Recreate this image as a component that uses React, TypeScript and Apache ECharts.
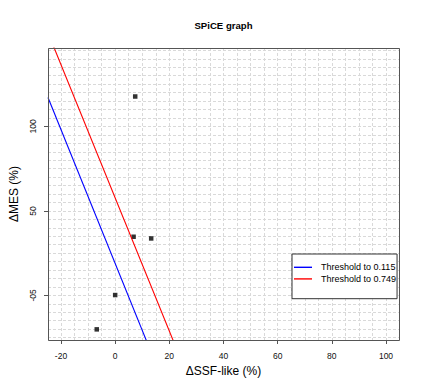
import React, { useEffect, useRef } from 'react';
import * as echarts from 'echarts';

// Scatter points
const ssfLike = [7.4, 6.8, 13.3, 0, -6.8];
const mes = [117.7, 34.7, 33.7, 0.2, -20.1];

// Threshold lines (y = intercept + slope * x)
const thresholdNames = ['Threshold to 0.115', 'Threshold to 0.749'];
const thresholdColors = ['#0000ff', '#ff0000'];
const thresholdIntercepts = [18.9, 57.7];
const thresholdSlopes = [-3.96, -3.94];

// Tick labels
const xTickValues = [-20, 0, 20, 40, 60, 80, 100];
const yTickValues = [0, 50, 100];
const yTickLabels = ['-05', '50', '100'];

const X_MIN = -24.8;
const X_MAX = 104.8;
const Y_MIN = -26.4;
const Y_MAX = 146.4;

const FONT = '"Liberation Sans", Arial, Helvetica, sans-serif';
const G = { left: 48, top: 48, width: 351, height: 292 };

export default function App() {
  const ref = useRef<HTMLDivElement>(null);

  useEffect(() => {
    if (!ref.current) return;
    const chart = echarts.init(ref.current, undefined, { renderer: 'svg' });

    const gridAxisCommon = {
      type: 'value' as const,
      axisLine: { show: false, onZero: false },
      axisTick: { show: false },
      axisLabel: { show: false },
      minInterval: 5,
      maxInterval: 5,
      splitLine: {
        show: true,
        lineStyle: { color: '#d9d9d9', width: 1, type: [3, 2] },
      },
    };

    const lineSeries = thresholdNames.map((name, i) => ({
      name,
      type: 'line',
      xAxisIndex: 0,
      yAxisIndex: 0,
      symbol: 'none',
      clip: true,
      lineStyle: { color: thresholdColors[i], width: 1.1 },
      itemStyle: { color: thresholdColors[i] },
      data: [X_MIN, X_MAX].map((x) => [x, thresholdIntercepts[i] + thresholdSlopes[i] * x]),
    }));

    chart.setOption({
      animation: false,
      backgroundColor: '#ffffff',
      textStyle: { fontFamily: FONT },
      grid: { ...G, containLabel: false, show: true, backgroundColor: '#ffffff', borderWidth: 0 },
      xAxis: [
        { ...gridAxisCommon, min: X_MIN, max: X_MAX, splitNumber: 26, position: 'bottom' },
        {
          type: 'value',
          min: X_MIN,
          max: X_MAX,
          position: 'bottom',
          axisLine: { show: false, onZero: false },
          splitLine: { show: false },
          axisTick: {
            show: true,
            length: 4,
            customValues: xTickValues,
            lineStyle: { color: '#555555', width: 1 },
          },
          axisLabel: {
            show: true,
            customValues: xTickValues,
            margin: 11,
            fontSize: 8.5,
            color: '#111111',
            fontFamily: FONT,
          },
          name: 'ΔSSF-like (%)',
          nameLocation: 'middle',
          nameGap: 20,
          nameTextStyle: { fontSize: 12, color: '#000000', fontFamily: FONT },
        },
      ],
      yAxis: [
        { ...gridAxisCommon, min: Y_MIN, max: Y_MAX, splitNumber: 35, position: 'left' },
        {
          type: 'value',
          min: Y_MIN,
          max: Y_MAX,
          position: 'left',
          axisLine: { show: false, onZero: false },
          splitLine: { show: false },
          axisTick: {
            show: true,
            length: 4,
            customValues: yTickValues,
            lineStyle: { color: '#555555', width: 1 },
          },
          axisLabel: {
            show: true,
            customValues: yTickValues,
            rotate: 90,
            margin: 11,
            fontSize: 8.5,
            color: '#111111',
            fontFamily: FONT,
            formatter: (v: number) => {
              const idx = yTickValues.indexOf(v);
              return idx >= 0 ? yTickLabels[idx] : '';
            },
          },
          name: 'ΔMES (%)',
          nameLocation: 'middle',
          nameGap: 25,
          nameTextStyle: { fontSize: 12, color: '#000000', fontFamily: FONT },
        },
      ],
      legend: {
        data: thresholdNames,
        orient: 'vertical',
        left: 292,
        top: 254,
        padding: [7.5, 1, 14, 2],
        itemGap: 0,
        itemWidth: 18,
        itemHeight: 1.4,
        icon: 'rect',
        selectedMode: false,
        borderColor: '#333333',
        borderWidth: 1,
        backgroundColor: '#ffffff',
        textStyle: {
          fontSize: 9,
          lineHeight: 11.6,
          color: '#000000',
          fontFamily: FONT,
          padding: [0, 0, 0, 4],
        },
      },
      graphic: [
        {
          type: 'text',
          x: G.left + G.width / 2,
          y: 25,
          style: {
            text: 'SPiCE graph',
            textAlign: 'center',
            textVerticalAlign: 'middle',
            font: `bold 9.6px ${FONT}`,
            fill: '#000000',
          },
        },
        {
          type: 'rect',
          z: 100,
          silent: true,
          shape: { x: G.left + 0.5, y: G.top + 0.5, width: G.width, height: G.height },
          style: { fill: 'none', stroke: '#555555', lineWidth: 1 },
        },
      ],
      series: [
        ...lineSeries,
        {
          name: 'points',
          type: 'scatter',
          xAxisIndex: 0,
          yAxisIndex: 0,
          symbol: 'rect',
          symbolSize: 4.5,
          itemStyle: { color: '#000000' },
          data: ssfLike.map((x, i) => [x, mes[i]]),
        },
      ],
    });

    return () => chart.dispose();
  }, []);

  return (
    <div
      ref={ref}
      style={{ position: 'fixed', left: 0, top: 0, width: 442, height: 384, background: '#fff' }}
    />
  );
}
